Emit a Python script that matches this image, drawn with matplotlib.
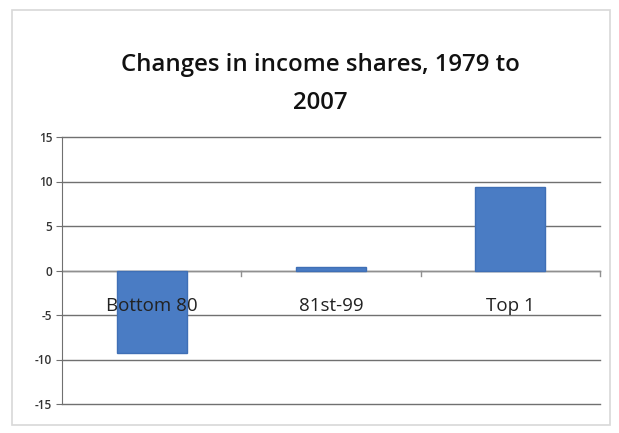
import matplotlib.pyplot as plt
from matplotlib.patches import Rectangle

# data
kategorier = ["Bottom 80", "81st-99", "Top 1"]
andring = [-9.3, 0.4, 9.4]
yticks = [-15, -10, -5, 0, 5, 10, 15]

fig = plt.figure(figsize=(6.19, 4.33), dpi=100)
fig.patch.set_facecolor("white")

# ram runt hela diagrammet
fig.patches.append(Rectangle((12/619, 1 - 425/433), 598/619, 415/433,
                             transform=fig.transFigure, fill=False,
                             edgecolor="#d8d8d8", linewidth=1.2))

ax = fig.add_axes([62/619, 1 - 404/433, 538/619, 267/433])
x = range(len(kategorier))
ax.bar(x, andring, width=0.39, color="#4a7cc4", edgecolor="#3f6fb5", zorder=3)

ax.set_xlim(-0.5, 2.5)
ax.set_ylim(-15, 15)
ax.set_yticks(yticks)
ax.set_yticklabels([str(v) for v in yticks], fontsize=8.5, family="Open Sans",
                   fontweight="semibold", color="#333333")
ax.tick_params(axis="y", length=4, color="#707070", pad=3)
ax.set_xticks([])

# rutnat
for v in yticks:
    ax.axhline(v, color="#707070", linewidth=1.0, zorder=0, clip_on=False)

for s in ["top", "right", "bottom"]:
    ax.spines[s].set_visible(False)
ax.spines["left"].set_color("#707070")

# nollinje med kategorimarkeringar
ax.axhline(0, color="#909090", linewidth=1.0, zorder=2)
for b in [0.5, 1.5, 2.5]:
    ax.plot([b, b], [0, -0.6], color="#909090", linewidth=1.0, zorder=2, clip_on=False)

# kategorietiketter
for i, k in enumerate(kategorier):
    ax.text(i, -4, k, ha="center", va="center", fontsize=13.5,
            family="Open Sans", color="#222222", zorder=4)

fig.text(320/619, 1 - 65/433, "Changes in income shares, 1979 to", ha="center",
         va="center", fontsize=17.3, family="Open Sans", fontweight="semibold", color="#111111")
fig.text(320/619, 1 - 103/433, "2007", ha="center",
         va="center", fontsize=17.3, family="Open Sans", fontweight="semibold", color="#111111")

fig.savefig("out.png", dpi=100)
